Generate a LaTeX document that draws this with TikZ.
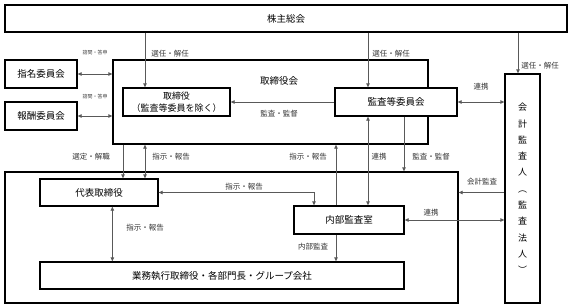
\documentclass[tikz,border=0pt]{standalone}
\usepackage{fontspec}
\setmainfont{Noto Sans CJK JP}
\usetikzlibrary{arrows.meta,positioning}

\begin{document}
\begin{tikzpicture}[x=1pt,y=-1pt,font=\fontsize{9.5}{11}\selectfont,
 box/.style={draw=black,line width=1.3pt,inner sep=0pt,align=center},
 lbl/.style={font=\fontsize{7.5}{9}\selectfont,inner sep=0pt,text=black!80},
 tinylbl/.style={font=\fontsize{5}{6}\selectfont,inner sep=0pt,text=black!75},
 arr/.style={-{Triangle[length=4pt,width=3.5pt]},draw=black!65,line width=.8pt},
 darr/.style={{Triangle[length=4pt,width=3.5pt]}-{Triangle[length=4pt,width=3.5pt]},draw=black!65,line width=.8pt}]
\useasboundingbox (0,0) rectangle (571,308);
% boxes
\node[box,minimum width=562,minimum height=27] (soukai) at (286,18.5) {株主総会};
\node[box,minimum width=315,minimum height=84] (torikai) at (270.5,102) {};
\node (torikailbl) at (279,81) {取締役会};
\node[box,fill=white,minimum width=107,minimum height=28,font=\fontsize{9}{12}\selectfont] (torishimariyaku) at (176.5,102) {取締役\\（監査等委員を除く）};
\node[box,fill=white,minimum width=122,minimum height=28] (kansa) at (396,102) {監査等委員会};
\node[box,minimum width=72,minimum height=28] (shimei) at (41,74) {指名委員会};
\node[box,minimum width=72,minimum height=28] (houshu) at (41,116) {報酬委員会};
\node[box,minimum width=35,minimum height=229,font=\fontsize{9}{16.3}\selectfont] (kaikei) at (522.5,188.5) {会\\計\\監\\査\\人\\︵\\監\\査\\法\\人\\︶};
\node[box,minimum width=453,minimum height=131] (shikkou) at (231.5,237.5) {};
\node[box,fill=white,minimum width=118,minimum height=27] (daihyo) at (99,192.5) {代表取締役};
\node[box,fill=white,minimum width=364,minimum height=27] (gyomu) at (222,275.5) {業務執行取締役・各部門長・グループ会社};
\node[box,fill=white,minimum width=110,minimum height=28] (naibu) at (349,220) {内部監査室};
% columns for vertical connectors
\coordinate (c123) at (123,0);
\coordinate (c145) at (145,0);
\coordinate (c314) at (314,0);
\coordinate (c336) at (336,0);
\coordinate (c368) at (368,0);
\coordinate (c404) at (404,0);
\coordinate (c518) at (518,0);
% connectors
\draw[arr] (soukai.south -| c145)--(torishimariyaku.north -| c145);
\draw[arr] (soukai.south -| c368)--(kansa.north -| c368);
\draw[arr] (soukai.south -| c518)--(kaikei.north -| c518);
\draw[darr] (shimei.east)--(shimei.east -| torikai.west);
\draw[darr] (houshu.east)--(houshu.east -| torikai.west);
\draw[arr] (kansa.west)--(torishimariyaku.east);
\draw[darr] (kansa.east)--(kansa.east -| kaikei.west);
\draw[arr] (torikai.south -| c123)--(daihyo.north -| c123);
\draw[darr] (torikai.south -| c145)--(daihyo.north -| c145);
\draw[darr] (daihyo.south -| torikai.west)--(gyomu.north -| torikai.west);
\draw[darr] (daihyo.east)--(daihyo.east -| c314)--(naibu.north -| c314);
\draw[arr] (naibu.north -| c336)--(torikai.south -| c336);
\draw[darr] (kansa.south -| c368)--(naibu.north -| c368);
\draw[arr] (kansa.south -| c404)--(shikkou.north -| c404);
\draw[arr] (kaikei.west |- daihyo.east)--(shikkou.east |- daihyo.east);
\draw[darr] (naibu.east)--(naibu.east -| kaikei.west);
\draw[arr] (naibu.south -| c336)--(gyomu.north -| c336);
% labels
\node[tinylbl] (l1) at (95,53) {諮問・答申};
\node[tinylbl] (l2) at (95,97) {諮問・答申};
\node[lbl] (l3) at (170,54) {選任・解任};
\node[lbl] (l4) at (391,54) {選任・解任};
\node[lbl] (l5) at (540,66) {選任・解任};
\node[lbl] (l6) at (481,87) {連携};
\node[lbl] (l7) at (279,114) {監査・監督};
\node[lbl] (l8) at (91,157) {選定・解職};
\node[lbl] (l9) at (171,157) {指示・報告};
\node[lbl] (l10) at (308,157) {指示・報告};
\node[lbl] (l11) at (379,157) {連携};
\node[lbl] (l12) at (431,157) {監査・監督};
\node[lbl] (l13) at (482,182) {会計監査};
\node[lbl] (l14) at (244,187) {指示・報告};
\node[lbl] (l15) at (431,213) {連携};
\node[lbl] (l16) at (145,228) {指示・報告};
\node[lbl] (l17) at (313,247) {内部監査};
\end{tikzpicture}
\end{document}
